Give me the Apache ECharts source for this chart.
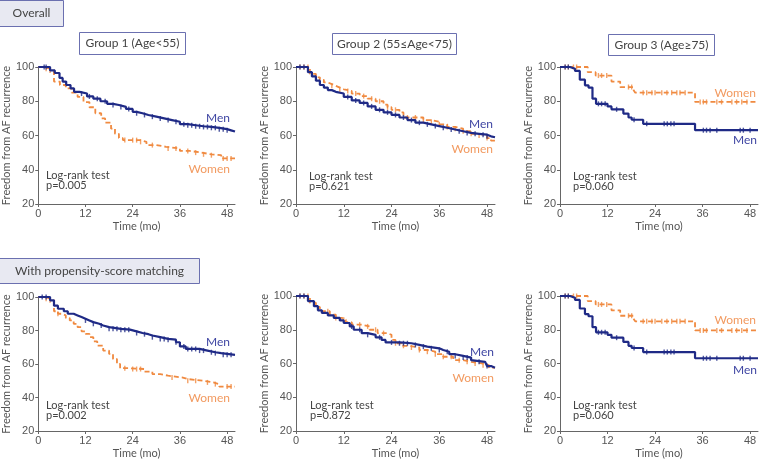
<!DOCTYPE html>
<html>
<head>
<meta charset="utf-8">
<script src="https://cdn.jsdelivr.net/npm/echarts@6/dist/echarts.min.js"></script>
<style>
  html, body { margin: 0; padding: 0; background: #fff; }
  #chart { width: 770px; height: 460px; }
</style>
</head>
<body>
<div id="chart"></div>
<script>
// ticks
const xTicks = [0, 12, 24, 36, 48]
const yTicks = [20, 40, 60, 80, 100]

// Kaplan-Meier steps: [month, % free from AF recurrence]
// Overall
const g1Men = [[0,100],[3,98],[4.2,96.5],[5.4,93.6],[6.2,91.5],[7.1,89.5],[8.2,87.5],[9.1,85.5],[10.5,84.5],[12.4,82.8],[14,81.5],[15.8,80],[17.5,78.5],[19,77.8],[20.5,76.7],[22.3,75.5],[24,73.8],[25,73],[26.5,72],[28,71],[30,70],[32,69],[34,68],[36,66.6],[38,66],[40,65.4],[42,65],[44,64.5],[46,63.7],[48,63],[49,62.3],[50,62.3]]
const g1Women = [[0,100],[1.5,99],[3,98],[4,91.5],[5.5,89.5],[7,87.5],[8.5,85],[10,82.5],[11.5,79.5],[13,76.5],[14.5,73],[16,70],[17,67.5],[18.5,64],[19.5,61],[20.5,58.5],[21.5,57.3],[26,56.3],[27.5,54.4],[30,53.4],[32.5,52.4],[36,51],[38.5,50],[41.5,49],[44,48.5],[46.5,46.6],[50,46.6]]
const g2Men = [[0,100],[3,97],[4,94.5],[5,92],[6,89.5],[7,88],[8,86.5],[9,85.5],[10,84.5],[12,82.5],[14,80.5],[16,79],[18,77],[20,75],[22,73.5],[24,72],[26,70.5],[28,69],[30,67.5],[32,66.5],[34,65.5],[36,64.5],[38,63.5],[40,62.5],[42,61.5],[44,61],[46,60.5],[48,59.5],[49,59],[50,59]]
const g2Women = [[0,100],[3.5,96],[5,94],[6,92.5],[7,91],[8,90],[9,89],[10,88],[11,87],[12,86],[14,84.5],[16,83],[18,81.5],[20,80],[22,78],[23,76.5],[24,75],[26,73.5],[27,70.5],[32,69],[34,68],[36,66.5],[38,65],[40,64],[42,62.5],[44,61],[46,60],[48,58.5],[49,57],[50,57]]
const g3Men = [[0,100],[2.5,99],[3.8,97.7],[5,92.6],[6.3,89.3],[7.2,88],[8.2,81.5],[9.1,78.5],[12,77],[13,75.3],[16,72.8],[17.3,70.5],[18.1,69.2],[21,66.8],[34.1,63.1],[50,63.1]]
const g3Women = [[0,100],[7,97],[9,95],[13,91.5],[15.2,88.3],[18.5,86.8],[19,85],[34.1,79.6],[50,79.6]]
// With propensity-score matching
const m1Men = [[0,100],[3,98],[4,94.8],[5,93],[6.5,91.5],[7.5,90],[9,89],[10,88],[11,87],[12,86],[13,85],[14,84],[15.5,83],[16.5,82],[18,81],[21,80.5],[23.3,79.5],[25,78.5],[26.5,77.8],[28,77],[29,76],[31,75],[33,74.5],[35,73],[36,70.5],[37.5,69],[41,68],[43,67],[45,66.5],[46.5,65.5],[50,65.5]]
const m1Women = [[0,100],[2,99],[3,98],[4,91.5],[5,90],[6,89],[7,87.5],[8,86],[9,84],[10,82],[11,79.5],[12,78],[13,76],[14,73.5],[15,71],[16.5,68],[18,66],[19,63],[20,60],[20.8,57.5],[23,57],[27,55.5],[29,54],[31,53],[33,52],[36.5,51],[38,50],[42,49],[44.5,48],[46,46.5],[50,46.5]]
const m2Men = [[0,100],[3,97],[4.5,94],[5.5,91.5],[6.5,90],[8,88.5],[9.5,87],[11,85.5],[12,84],[13.5,82],[14.5,80],[16.5,78],[18,77],[20,75.5],[21.5,74],[22.5,72.5],[26,72],[29,71],[31,70],[33,69],[36,68],[37,67],[38.5,65.5],[40,64.5],[42,63.5],[44,62],[44.5,61],[47.5,60.5],[48,58.5],[49,57.5],[50,57.5]]
const m2Women = [[0,100],[3.5,96],[5,93.5],[6,91],[8.5,89],[10,87],[11.5,86],[12.5,84.5],[14,83],[16.5,82],[18.5,80],[20.5,78],[23,77],[24,74],[25,72],[26.5,70.5],[28,69.5],[31,68],[33,67],[35,65.5],[37,64],[39.5,62],[42,61],[44,60],[47,59],[48.5,57.5],[50,57.5]]
const m3Men = g3Men
const m3Women = g3Women

// censored times (month)
const g1MenCens = [1.5,2,11,13,15,17,19,21,23,25,27,29,31,33,35,37,38,39,40,41,42,43,44,45,46,47,48]
const g1WomenCens = [2,3,22,24,25,26,29,33,35,38,40,42,44,47,48,49]
const g2MenCens = [1,2,13,15,17,19,21,23,25,27,29,31,33,35,37,39,41,43,45,47,48]
const g2WomenCens = [1,2,3,5,9,11,13,15,17,19,21,23,25,28,30,32,34,36,38,40,42,44,46,48]
const g3MenCens = [1.3,2.1,9.7,10.5,11.4,14.3,18.7,21.9,26.3,27.1,28,28.8,36.2,37,37.9,39.6,45.5,46.3,48]
const g3WomenCens = [1.3,2.1,3.4,4.2,9.7,10.5,11.8,17.3,18.1,21,21.9,23.2,24,25.7,27,28.2,29.5,30.3,31.6,35.4,36.2,37,39.6,40.8,43.4,44.6,45.9,47.2]
const m1MenCens = [1,2,12,14,16,18,19,20,21,22,23,25,27,29,31,32,33,35,37,38,39,40,41,42,44,45,47,48,49]
const m1WomenCens = [2,3,5,22,24,25,26,34,38,40,43,45,48,49]
const m2MenCens = [1,2,14,16,18,21,24,26,27,28,30,32,34,36,38,40,42,43,46,48]
const m2WomenCens = [1,2,3,8,10,12,14,16,18,20,22,25,27,29,31,33,35,37,39,41,43,45,47]
const m3MenCens = g3MenCens
const m3WomenCens = g3WomenCens

const pValues = ['p=0.005', 'p=0.621', 'p=0.060', 'p=0.002', 'p=0.872', 'p=0.060']
const groupTitles = ['Group 1 (Age<55)', 'Group 2 (55≤Age<75)', 'Group 3 (Age≥75)']

const MEN = '#1f2a86'
const WOMEN = '#f08a40'
const FONT = 'Lato, "Noto Sans", sans-serif'
const NUM_FONT = '"Liberation Sans", Arial, sans-serif'

const panels = [
    { grid: { left: 33, top: 67, width: 202, height: 137 }, men: g1Men, women: g1Women, mc: g1MenCens, wc: g1WomenCens, menAt: [230, 118], womenAt: [230, 169], testAt: [46, 175] },
    { grid: { left: 296, top: 67, width: 199, height: 137 }, men: g2Men, women: g2Women, mc: g2MenCens, wc: g2WomenCens, menAt: [493, 124], womenAt: [493, 149], testAt: [309, 176] },
    { grid: { left: 560, top: 67, width: 198, height: 137 }, men: g3Men, women: g3Women, mc: g3MenCens, wc: g3WomenCens, menAt: [757, 140], womenAt: [756, 93], testAt: [573, 176] },
    { grid: { left: 33, top: 297, width: 202, height: 137 }, men: m1Men, women: m1Women, mc: m1MenCens, wc: m1WomenCens, menAt: [230, 342], womenAt: [230, 398], testAt: [46, 405] },
    { grid: { left: 296, top: 296, width: 199, height: 138 }, men: m2Men, women: m2Women, mc: m2MenCens, wc: m2WomenCens, menAt: [494, 352], womenAt: [494, 378], testAt: [310, 405] },
    { grid: { left: 560, top: 296, width: 198, height: 138 }, men: m3Men, women: m3Women, mc: m3MenCens, wc: m3WomenCens, menAt: [757, 370], womenAt: [756, 320], testAt: [573, 405] }
]

// value of the step curve at time t
function stepAt(curve, t) {
    let v = curve[0][1]
    for (const p of curve) {
        if (p[0] <= t) v = p[1]
    }
    return v
}

const grids = [], xAxes = [], yAxes = [], series = [], graphic = []

panels.forEach((p, i) => {
    grids.push(p.grid)
    xAxes.push({
        gridIndex: i, type: 'value', min: 0, max: 50,
        name: 'Time (mo)', nameLocation: 'middle', nameGap: 17,
        nameTextStyle: { fontSize: 11, color: '#555', fontFamily: FONT },
        axisLine: { lineStyle: { color: '#666', width: 1 } },
        axisTick: { show: true, length: 3, customValues: xTicks, lineStyle: { color: '#666' } },
        axisLabel: { customValues: xTicks, fontSize: 11, color: '#555', margin: 4, fontFamily: NUM_FONT },
        splitLine: { show: false }
    })
    yAxes.push({
        gridIndex: i, type: 'value', min: 20, max: 100, interval: 20,
        name: 'Freedom from AF recurrence', nameLocation: 'middle', nameGap: 26,
        nameTextStyle: { fontSize: 11, color: '#555', fontFamily: FONT },
        axisLine: { show: true, lineStyle: { color: '#666', width: 1 } },
        axisTick: { show: true, length: 3, lineStyle: { color: '#666' } },
        axisLabel: { fontSize: 11, color: '#555', margin: 4, fontFamily: NUM_FONT },
        splitLine: { show: false }
    })
    series.push({
        type: 'line', xAxisIndex: i, yAxisIndex: i, step: 'end', showSymbol: false,
        data: p.women, lineStyle: { color: WOMEN, width: 1.8, type: [5, 3] }, z: 2
    })
    series.push({
        type: 'line', xAxisIndex: i, yAxisIndex: i, step: 'end', showSymbol: false,
        data: p.men, lineStyle: { color: MEN, width: 2.2 }, z: 3
    })
    series.push({
        type: 'scatter', xAxisIndex: i, yAxisIndex: i, symbol: 'rect', symbolSize: [1.4, 5],
        data: p.wc.map(t => [t, stepAt(p.women, t)]), itemStyle: { color: WOMEN }, z: 2
    })
    series.push({
        type: 'scatter', xAxisIndex: i, yAxisIndex: i, symbol: 'rect', symbolSize: [1.4, 5],
        data: p.mc.map(t => [t, stepAt(p.men, t)]), itemStyle: { color: MEN }, z: 3
    })
    graphic.push(
        { type: 'text', x: p.menAt[0], y: p.menAt[1], style: { text: 'Men', fill: '#3f46a3', font: '12px ' + FONT, align: 'right', verticalAlign: 'middle' } },
        { type: 'text', x: p.womenAt[0], y: p.womenAt[1], style: { text: 'Women', fill: '#f29a60', font: '12px ' + FONT, align: 'right', verticalAlign: 'middle' } },
        { type: 'text', x: p.testAt[0], y: p.testAt[1], style: { text: 'Log-rank test', fill: '#444', font: '11px ' + FONT, verticalAlign: 'middle' } },
        { type: 'text', x: p.testAt[0], y: p.testAt[1] + 10.5, style: { text: pValues[i], fill: '#444', font: '11px ' + FONT, verticalAlign: 'middle' } }
    )
})

// boxed headings
const boxes = [
    { x: -1, y: 0, w: 64, h: 26, text: 'Overall', fill: '#e8e9f2' },
    { x: -1, y: 258, w: 200, h: 25, text: 'With propensity-score matching', fill: '#e8e9f2' },
    { x: 79, y: 32, w: 106, h: 22, text: groupTitles[0], fill: '#fff' },
    { x: 332, y: 33, w: 124, h: 21, text: groupTitles[1], fill: '#fff' },
    { x: 608, y: 34, w: 106, h: 21, text: groupTitles[2], fill: '#fff' }
]
boxes.forEach(b => {
    graphic.push({
        type: 'rect', shape: { x: b.x + 0.5, y: b.y + 0.5, width: b.w, height: b.h },
        style: { fill: b.fill, stroke: '#6b70b0', lineWidth: 1 }
    })
    graphic.push({
        type: 'text', x: b.x + b.w / 2 + 0.5, y: b.y + b.h / 2 + 0.5,
        style: { text: b.text, fill: '#444', font: '12px ' + FONT, align: 'center', verticalAlign: 'middle' }
    })
})

const chart = echarts.init(document.getElementById('chart'))
chart.setOption({
    animation: false,
    grid: grids,
    xAxis: xAxes,
    yAxis: yAxes,
    series: series,
    graphic: graphic
})
</script>
</body>
</html>
